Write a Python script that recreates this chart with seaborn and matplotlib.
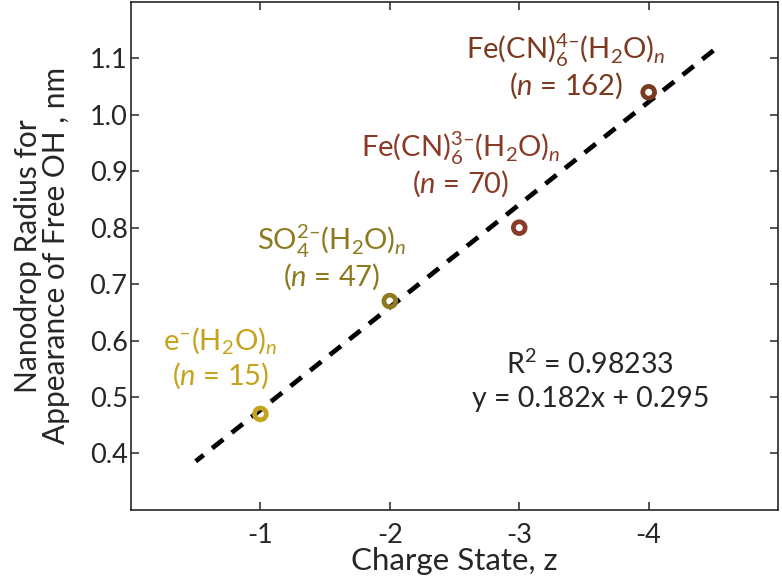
import matplotlib
matplotlib.use("Agg")
import matplotlib.pyplot as plt
import numpy as np
import pandas as pd
import seaborn as sns

# measured data: nanodrop radius at which free OH appears, vs ion charge state
CHARGE = [-1, -2, -3, -4]
RADIUS = [0.47, 0.67, 0.80, 1.04]
SPECIES = [
    r"e$^{–}$(H$_2$O)$_{n}$",
    r"SO$_4^{2–}$(H$_2$O)$_{n}$",
    r"Fe(CN)$_6^{3–}$(H$_2$O)$_{n}$",
    r"Fe(CN)$_6^{4–}$(H$_2$O)$_{n}$",
]
N_WATER = ["15", "47", "70", "162"]
COLORS = ["#C6A31C", "#8D7A1F", "#8A3B27", "#7B3A1F"]

# reported linear fit, y = slope*|z| + intercept
FIT_SLOPE = 0.182
FIT_INTERCEPT = 0.295
FIT_R2 = "0.98233"
FIT_RANGE = [-0.5, -4.5]

# label anchors (data coords)
LABEL_XY = [(-0.69, 0.60), (-1.55, 0.775), (-2.55, 0.94), (-3.36, 1.114)]
LINE_GAP = 0.062

sns.set_style("ticks", {"xtick.direction": "in", "ytick.direction": "in"})
plt.rcParams.update({
    "font.family": ["Lato", "DejaVu Sans"],
    "mathtext.fontset": "custom",
    "mathtext.rm": "Lato",
    "mathtext.it": "Lato:italic",
    "mathtext.bf": "Lato:bold",
})

df = pd.DataFrame({"z": CHARGE, "r": RADIUS, "species": SPECIES})
fit_x = np.array(FIT_RANGE, dtype=float)
fit = pd.DataFrame({"z": fit_x, "r": FIT_SLOPE * np.abs(fit_x) + FIT_INTERCEPT})

fig = plt.figure(figsize=(7.82, 5.82), dpi=100)
ax = fig.add_axes([0.1675, 0.124, 0.8275, 0.8726])

sns.lineplot(data=fit, x="z", y="r", ax=ax, color="black", lw=3.4,
             linestyle=(0, (3.0, 2.3)), errorbar=None, zorder=2)
sns.scatterplot(data=df, x="z", y="r", hue="species", palette=COLORS,
                s=72, legend=False, ax=ax, zorder=3)
pts = ax.collections[-1]
pts.set_edgecolors(pts.get_facecolors())
pts.set_facecolors("none")
pts.set_linewidths(3.4)

for (lx, ly), name, n, c in zip(LABEL_XY, SPECIES, N_WATER, COLORS):
    ax.text(lx, ly, name, color=c, fontsize=21, ha="center", va="center")
    ax.text(lx, ly - LINE_GAP, f"($n$ = {n})", color=c, fontsize=21,
            ha="center", va="center")

ax.text(-3.55, 0.557, f"R$^2$ = {FIT_R2}", fontsize=20.5, ha="center", va="center")
ax.text(-3.55, 0.497, f"y = {FIT_SLOPE}x + {FIT_INTERCEPT}", fontsize=20.5,
        ha="center", va="center")

ax.set_xlim(0, -5)
ax.set_ylim(0.3, 1.2)
ax.set_xticks(CHARGE)
ax.set_xticklabels([str(c) for c in CHARGE])
ax.set_yticks(np.round(np.arange(0.4, 1.15, 0.1), 1))
ax.set_yticklabels([f"{v:.1f}" for v in np.arange(0.4, 1.15, 0.1)])
ax.tick_params(labelsize=19.5, length=6, width=1.1, top=True, right=True)
ax.tick_params(axis="x", pad=9.5)
ax.tick_params(axis="y", pad=2.5)
for sp in ax.spines.values():
    sp.set_linewidth(1.2)
ax.set_xlabel("Charge State, z", fontsize=22.5)
ax.set_ylabel("Nanodrop Radius for\nAppearance of Free OH , nm", fontsize=21.5,
              linespacing=1.0)
ax.xaxis.set_label_coords(0.5, -0.074)
ax.yaxis.set_label_coords(-0.094, 0.5)

fig.savefig("out.png", dpi=100)
